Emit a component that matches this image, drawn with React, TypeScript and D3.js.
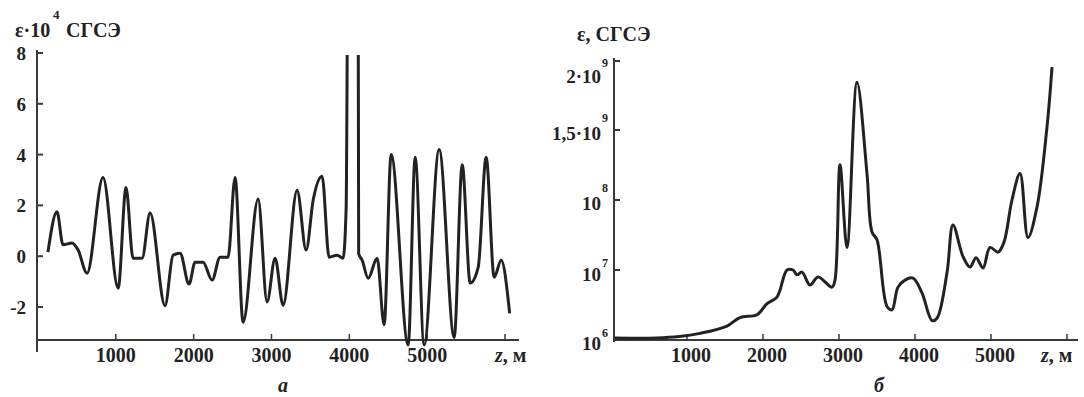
import React from "react";
import * as d3 from "d3";

// ---- Panel a: ε·10^4 (СГСЭ) vs z (м)
const A_Z = [128, 244, 321, 437, 514, 630, 835, 1030, 1131, 1221, 1337, 1440, 1632, 1735, 1825, 1941, 2018, 2121, 2237, 2339, 2442, 2532, 2635, 2828, 2943, 3046, 3149, 3329, 3445, 3535, 3650, 3740, 3843, 3920, 3959, 3990, 4110, 4120, 4165, 4242, 4357, 4447, 4537, 4756, 4846, 4961, 5154, 5347, 5450, 5553, 5656, 5758, 5861, 5951, 6060];
const A_E = [0.16, 1.75, 0.45, 0.52, 0.25, -0.67, 3.1, -1.26, 2.7, -0.08, -0.08, 1.7, -1.95, 0.04, 0.12, -1.1, -0.24, -0.24, -0.94, -0.04, -0.04, 3.1, -2.6, 2.25, -1.8, -0.08, -1.93, 2.6, 0.24, 2.2, 3.15, -0.04, 0.04, -0.08, 1.9, 16, 16, 0.1, -0.16, -0.87, -0.08, -2.7, 4.0, -3.5, 3.9, -3.5, 4.2, -3.2, 3.6, -1.06, -0.43, 3.9, -0.83, -0.16, -2.25];
const A_YTICKS = [8, 6, 4, 2, 0, -2];
const A_XTICKS = [1000, 2000, 3000, 4000, 5000, 6000];
const A_XLABELS = ["1000", "2000", "3000", "4000", "5000", ""];

// ---- Panel б: ε (СГСЭ) vs z (м)
const B_Z = [50, 600, 900, 1171, 1526, 1697, 1921, 2053, 2184, 2316, 2395, 2447, 2513, 2618, 2724, 2908, 2947, 3013, 3105, 3237, 3368, 3434, 3500, 3632, 3697, 3776, 3868, 3974, 4092, 4224, 4289, 4421, 4500, 4632, 4724, 4803, 4895, 4987, 5092, 5171, 5276, 5382, 5487, 5605, 5737, 5803];
const B_E = [1.0e6, 1.0e6, 1.05e6, 1.17e6, 1.5e6, 2.0e6, 2.2e6, 3.2e6, 4.0e6, 1.0e7, 1.0e7, 8.5e6, 9.3e6, 6.0e6, 7.9e6, 5.6e6, 7.1e6, 3.9e8, 2.1e7, 1.83e9, 2.8e8, 3.5e7, 2.7e7, 2.9e6, 2.6e6, 5.6e6, 7.1e6, 7.6e6, 4.6e6, 1.8e6, 1.95e6, 9.1e6, 4.4e7, 1.55e7, 1.1e7, 1.5e7, 1.07e7, 2.1e7, 1.8e7, 2.5e7, 1.0e8, 2.8e8, 2.9e7, 7.9e7, 1.52e9, 1.95e9];
const B_YTICKS = [1e6, 1e7, 1e8, 1.5e9, 2e9];
const B_YMAIN = ["10", "10", "10", "1,5·10", "2·10"];
const B_YSUP = ["6", "7", "8", "9", "9"];
const B_XTICKS = [1000, 2000, 3000, 4000, 5000, 6000];
const B_XLABELS = ["1000", "2000", "3000", "4000", "5000", ""];

const FONT = "'Liberation Serif', 'DejaVu Serif', serif";
const INK = "#222";
const AXIS = "#3a3a3a";

export default function App() {
  // Panel a scales
  const ax = d3.scaleLinear().domain([0, 6000]).range([38, 505]);
  const ay = d3.scaleLinear().domain([-3.3, 8]).range([340, 53]);
  const aLine = d3
    .line<number>()
    .x((_, i) => ax(A_Z[i]))
    .y((d) => ay(d))
    .curve(d3.curveMonotoneX);

  // Panel б scales (piecewise, as drawn in the original)
  const bx = d3.scaleLinear().domain([0, 6000]).range([611, 1067]);
  const by = d3
    .scaleLinear()
    .domain([6, 7, 8, Math.log10(1.5e9), Math.log10(2e9)])
    .range([338, 270, 200, 130, 61]);
  const bLine = d3
    .line<number>()
    .x((_, i) => bx(B_Z[i]))
    .y((d) => by(Math.log10(d)))
    .curve(d3.curveCatmullRom.alpha(0.5));

  const bLabelDy = [12, 11, 10, 10, 22];
  const bSupDy = [-1, -3, -8, -8, 6];

  return (
    <svg width={1084} height={397} style={{ position: "absolute", left: 0, top: 0, background: "#fff" }} fontFamily={FONT}>
      <defs>
        <clipPath id="clipA">
          <rect x={30} y={55} width={500} height={300} />
        </clipPath>
      </defs>

      {/* ===== Panel a ===== */}
      <text x={15} y={37} fontSize={20} fontWeight="bold" fill={INK}>ε·10</text>
      <text x={53} y={19} fontSize={13} fontWeight="bold" fill={INK}>4</text>
      <text x={66} y={37} fontSize={20} fontWeight="bold" fill={INK}>СГСЭ</text>

      <line x1={37} x2={37} y1={50} y2={352} stroke={AXIS} strokeWidth={2} />
      <line x1={37} x2={519} y1={340} y2={340} stroke={AXIS} strokeWidth={2} />
      {A_YTICKS.map((t) => (
        <g key={"ay" + t}>
          <line x1={37} x2={43} y1={ay(t)} y2={ay(t)} stroke={AXIS} strokeWidth={2} />
          <text x={26} y={ay(t) + 7} fontSize={19} fontWeight="bold" textAnchor="end" fill={INK}>
            {t}
          </text>
        </g>
      ))}
      {A_XTICKS.map((t, i) => (
        <g key={"ax" + t}>
          <line x1={ax(t)} x2={ax(t)} y1={340} y2={334} stroke={AXIS} strokeWidth={1.5} />
          <text x={ax(t)} y={362} fontSize={20} fontWeight="bold" textAnchor="middle" fill={INK}>
            {A_XLABELS[i]}
          </text>
        </g>
      ))}
      <text x={495} y={362} fontSize={20} fontWeight="bold" fill={INK}>
        <tspan fontStyle="italic">z</tspan>, м
      </text>
      <text x={283} y={392} fontSize={20} fontWeight="bold" fontStyle="italic" textAnchor="middle" fill={INK}>а</text>

      <path d={aLine(A_E) || ""} fill="none" stroke={INK} strokeWidth={3} strokeLinejoin="round" clipPath="url(#clipA)" />

      {/* ===== Panel б ===== */}
      <text x={577} y={41} fontSize={20} fontWeight="bold" fill={INK}>ε, СГСЭ</text>

      <line x1={614} x2={614} y1={58} y2={342} stroke={AXIS} strokeWidth={2} />
      <line x1={614} x2={1078} y1={340} y2={340} stroke={AXIS} strokeWidth={2} />
      {B_YTICKS.map((t, i) => {
        const y = by(Math.log10(t));
        return (
          <g key={"by" + i}>
            <line x1={614} x2={620} y1={y} y2={y} stroke={AXIS} strokeWidth={2} />
            <text x={601} y={y + bLabelDy[i]} fontSize={19} fontWeight="bold" textAnchor="end" fill={INK}>
              {B_YMAIN[i]}
            </text>
            <text x={602} y={y + bSupDy[i]} fontSize={12} fontWeight="bold" fill={INK}>
              {B_YSUP[i]}
            </text>
          </g>
        );
      })}
      {B_XTICKS.map((t, i) => (
        <g key={"bx" + t}>
          <line x1={bx(t)} x2={bx(t)} y1={340} y2={334} stroke={AXIS} strokeWidth={1.5} />
          <text x={bx(t) + 4} y={362} fontSize={20} fontWeight="bold" textAnchor="middle" fill={INK}>
            {B_XLABELS[i]}
          </text>
        </g>
      ))}
      <text x={1041} y={362} fontSize={20} fontWeight="bold" fill={INK}>
        <tspan fontStyle="italic">z</tspan>, м
      </text>
      <text x={879} y={392} fontSize={20} fontWeight="bold" fontStyle="italic" textAnchor="middle" fill={INK}>б</text>

      <path d={bLine(B_E) || ""} fill="none" stroke={INK} strokeWidth={3} strokeLinejoin="round" />
    </svg>
  );
}
